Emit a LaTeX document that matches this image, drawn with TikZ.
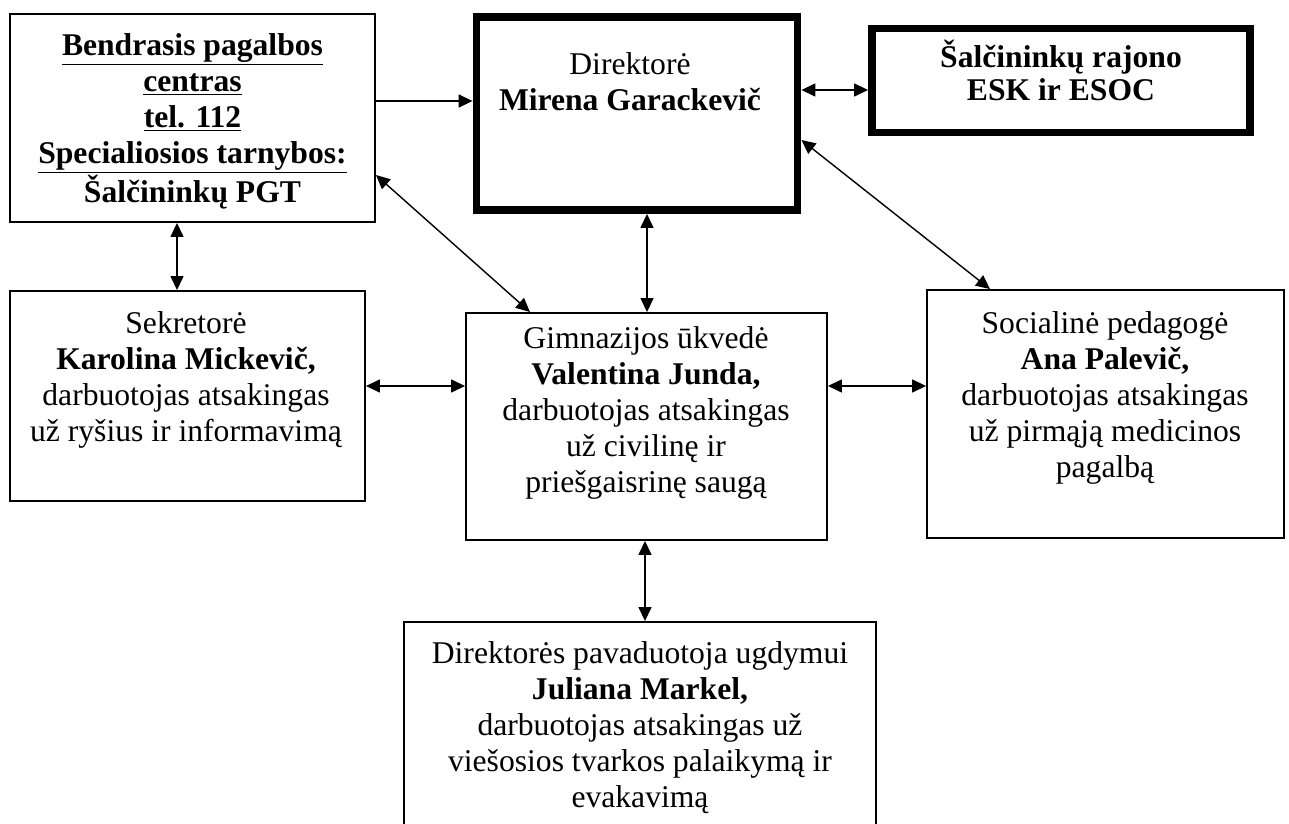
\documentclass[tikz,border=0pt]{standalone}
\usepackage{fontspec}
\setmainfont{Liberation Serif}
\usetikzlibrary{positioning, arrows.meta}
\tikzset{box/.style={draw, line width=1.1pt, inner sep=0pt},
	thickbox/.style={box, line width=4.5pt},
	txt/.style={align=center, inner sep=0pt, anchor=north, font=\fontsize{18}{20.5}\selectfont},
	tip/.tip={Triangle[length=0.28cm, width=0.26cm]},
	oneway/.style={draw, -tip, line width=0.8pt},
	link/.style={draw, tip-tip, line width=0.8pt}}

\begin{document}
\begin{tikzpicture}[x=0.02cm, y=-0.02cm]
    \path[use as bounding box, fill=white] (0,0) rectangle (1289,824);
    % boxes
    \node[box, minimum width=7.3cm, minimum height=4.16cm] (bpc) at (192.5,118) {};
    \node[thickbox, minimum width=6.42cm, minimum height=3.86cm] (dir) at (637,113.5) {};
    \node[thickbox, minimum width=7.56cm, minimum height=2.08cm] (esk) at (1061,80.5) {};
    \node[box, minimum width=7.1cm, minimum height=4.2cm] (sek) at (187.5,396) {};
    \node[box, minimum width=7.22cm, minimum height=4.54cm] (ukv) at (646.5,426.5) {};
    \node[box, minimum width=7.14cm, minimum height=4.96cm] (soc) at (1105.5,414) {};
    \node[box, minimum width=9.44cm, minimum height=4.36cm] (pav) at (640,731) {};
    % texts
    \node[txt, font=\fontsize{18}{20.5}\selectfont\bfseries] (bpctxt) at (192.5,33)
        {\underline{Bendrasis pagalbos}\\ \underline{centras}\\ \underline{tel. 112}\\
         \underline{Specialiosios tarnybos:}\\ Šalčininkų PGT};
    \node[txt] (dirtxt) at (630,52) {Direktorė\\ \textbf{Mirena Garackevič}};
    \node[txt, font=\fontsize{18}{18.8}\selectfont\bfseries] (esktxt) at (1061,40)
        {Šalčininkų rajono\\ ESK ir ESOC};
    \node[txt] (sektxt) at (186,311)
        {Sekretorė\\ \textbf{Karolina Mickevič,}\\ darbuotojas atsakingas\\ už ryšius ir informavimą};
    \node[txt] (ukvtxt) at (646,326)
        {Gimnazijos ūkvedė\\ \textbf{Valentina Junda,}\\ darbuotojas atsakingas\\ už civilinę ir\\ priešgaisrinę saugą};
    \node[txt] (soctxt) at (1105,311)
        {Socialinė pedagogė\\ \textbf{Ana Palevič,}\\ darbuotojas atsakingas\\ už pirmąją medicinos\\ pagalbą};
    \node[txt] (pavtxt) at (640,641)
        {Direktorės pavaduotoja ugdymui\\ \textbf{Juliana Markel,}\\ darbuotojas atsakingas už\\ viešosios tvarkos palaikymą ir\\ evakavimą};
    % connectors
    \draw[oneway] (bpc.east |- 0,101) -- (dir.west |- 0,101);
    \draw[link] (dir.east |- 0,90) -- (esk.west |- 0,90);
    \draw[link] (bpc.south -| 177,0) -- (sek.north -| 177,0);
    \draw[link] (bpc.east |- 0,175) -- (ukv.north -| 530,0);
    \draw[link] (dir.south -| 647,0) -- (ukv.north -| 647,0);
    \draw[link] (dir.east |- 0,140) -- (soc.north -| 990,0);
    \draw[link] (sek.east |- 0,386) -- (ukv.west |- 0,386);
    \draw[link] (ukv.east |- 0,386) -- (soc.west |- 0,386);
    \draw[link] (ukv.south -| 645,0) -- (pav.north -| 645,0);
\end{tikzpicture}
\end{document}
